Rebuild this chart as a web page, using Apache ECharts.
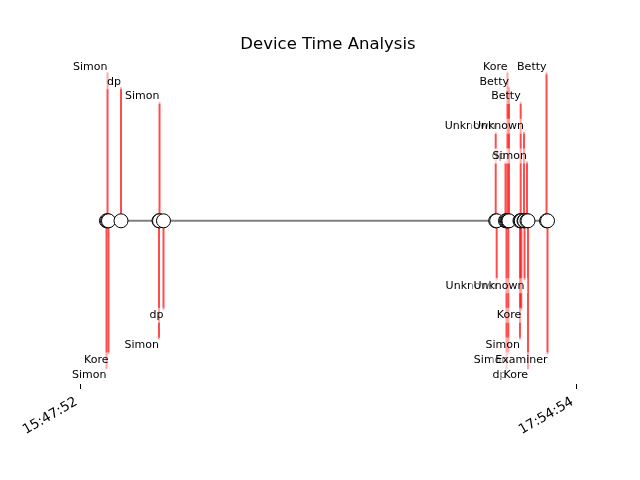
<!DOCTYPE html>
<html><head><meta charset="utf-8">
<script src="https://cdn.jsdelivr.net/npm/echarts@6/dist/echarts.min.js"></script>
<style>html,body{margin:0;padding:0;background:#fff}#c{width:640px;height:480px}</style>
</head><body><div id="c"></div>
<script>
const chartTitle = 'Device Time Analysis';
const eventTimes = ['15:54:39','15:54:55','15:55:10','15:58:22','16:08:06','16:08:14','16:09:15',
  '17:34:20','17:34:35','17:36:51','17:37:06','17:37:21','17:37:34','17:37:44','17:40:33','17:40:44',
  '17:40:53','17:41:35','17:41:43','17:42:21','17:42:36','17:47:21','17:47:36'];
const eventNames = ['Simon','Simon','Kore','dp','Simon','Simon','dp',
  'Unknown','Unknown','dp','dp','Kore','Simon','Betty','Simon','Betty',
  'Kore','Unknown','Unknown','Simon','Kore','Betty','Examiner'];
const eventLevels = [-10,10,-9,9,-8,8,-6,
  6,-4,4,-10,10,-9,9,-8,8,
  -6,6,-4,4,-10,10,-9];
const tickLabels = ['15:47:52','17:54:54'];

function toSec(s){const p=s.split(':').map(Number);return p[0]*3600+p[1]*60+p[2];}
function pad2(n){return (n<10?'0':'')+n;}
function fmt(sec){sec=Math.round(sec);return pad2(Math.floor(sec/3600))+':'+pad2(Math.floor(sec%3600/60))+':'+pad2(sec%60);}
const t0 = toSec(tickLabels[0]), t1 = toSec(tickLabels[1]);
const span = t1 - t0;
const xs = eventTimes.map(t => toSec(t) - t0);
const stemData = xs.map((x,i) => [x, eventLevels[i], i]);
const FONT = '"DejaVu Sans", sans-serif';

const chart = echarts.init(document.getElementById('c'), null, {renderer:'canvas'});
chart.setOption({
  animation:false,
  backgroundColor:'#fff',
  title:{text:chartTitle, left:328, textAlign:'center', top:36, padding:0,
    textStyle:{fontFamily:FONT, fontSize:16.5, fontWeight:'normal', color:'#000'}},
  grid:{left:80, right:64, top:57.6, bottom:96, containLabel:false},
  xAxis:{type:'value', min:0, max:span, interval:span,
    axisLine:{show:false, onZero:false}, splitLine:{show:false},
    axisTick:{show:true, length:5, lineStyle:{color:'#000', width:1}},
    axisLabel:{rotate:30, margin:15, padding:[0,4,0,0], fontFamily:FONT, fontSize:13.5, color:'#000',
      formatter: v => fmt(t0 + v)}},
  yAxis:{type:'value', min:-11, max:11, show:false},
  series:[
    {type:'custom', z:1, data:stemData, clip:false,
      renderItem:(params, api) => {
        const p0 = api.coord([api.value(0), 0]);
        const p1 = api.coord([api.value(0), api.value(1)]);
        return {type:'line', shape:{x1:p0[0], y1:p0[1], x2:p1[0], y2:p1[1]},
          style:{stroke:'rgba(255,0,0,0.7)', lineWidth:2}};
      }},
    {type:'line', z:2, data:xs.map(x => [x, 0]), showAllSymbol:true,
      symbol:'circle', symbolSize:14,
      itemStyle:{color:'#fff', borderColor:'#000', borderWidth:1},
      lineStyle:{color:'#808080', width:2}},
    {type:'custom', z:3, data:stemData, clip:false,
      renderItem:(params, api) => {
        const lv = api.value(1);
        const p1 = api.coord([api.value(0), lv]);
        const name = eventNames[api.value(2)];
        return {type:'text', x:p1[0] + 3, y:p1[1] + (lv > 0 ? 2 : -2),
          style:{text:name, fill:'#000', font:'11px ' + FONT,
            align:'right', verticalAlign: lv > 0 ? 'bottom' : 'top',
            backgroundColor:'rgba(255,255,255,0.5)', padding:[2,3]}};
      }}
  ]
});
</script></body></html>
